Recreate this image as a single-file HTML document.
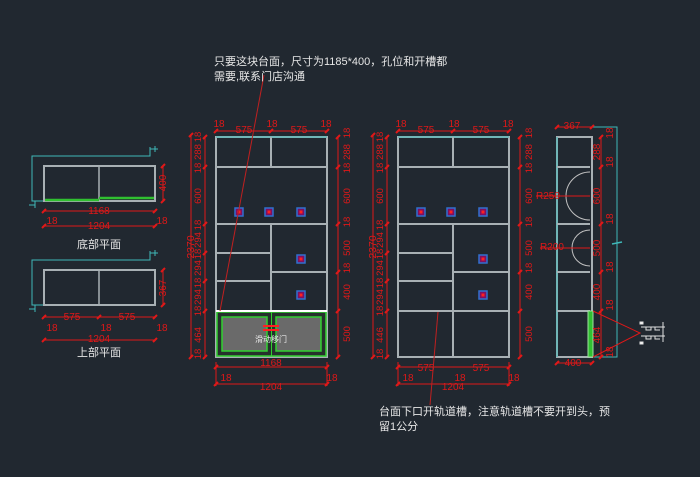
<!DOCTYPE html>
<html><head><meta charset="utf-8"><style>
html,body{margin:0;padding:0;background:#212830;}
svg{display:block}
text{font-family:"Liberation Sans","Noto Sans CJK SC",sans-serif;}
.r{fill:#e01818;font-size:10px;}
.w{fill:#e6e6e6;font-size:11px;}
</style></head><body>
<svg width="700" height="477" viewBox="0 0 700 477" xmlns="http://www.w3.org/2000/svg">
<rect width="700" height="477" fill="#212830"/>
<defs>
<g id="cab">
 <rect x="216" y="137" width="111" height="220" fill="none" stroke="#a8b0b4" stroke-width="2"/>
 <line x1="216" y1="137" x2="327" y2="137" stroke="#5fb8b8" stroke-width="1.5"/>
 <g stroke="#a8b0b4" stroke-width="2">
 <line x1="271" y1="137" x2="271" y2="167"/>
 <line x1="216" y1="167" x2="327" y2="167"/>
 <line x1="216" y1="224" x2="327" y2="224"/>
 <line x1="271" y1="224" x2="271" y2="357"/>
 <line x1="216" y1="253" x2="271" y2="253"/>
 <line x1="216" y1="281" x2="271" y2="281"/>
 <line x1="271" y1="272" x2="327" y2="272"/>
 <line x1="216" y1="311" x2="327" y2="311"/>
 </g>
 <g stroke="#3070d0" stroke-width="1.5" fill="#801060">
 <rect x="235" y="208" width="8" height="8"/><rect x="265" y="208" width="8" height="8"/><rect x="297" y="208" width="8" height="8"/>
 <rect x="297" y="255" width="8" height="8"/><rect x="297" y="291" width="8" height="8"/>
 </g>
 <g fill="#ff2020"><rect x="237.5" y="210.5" width="3" height="3"/><rect x="267.5" y="210.5" width="3" height="3"/><rect x="299.5" y="210.5" width="3" height="3"/><rect x="299.5" y="257.5" width="3" height="3"/><rect x="299.5" y="293.5" width="3" height="3"/></g>
 <g stroke="#e01818" stroke-width="1" fill="none">
  <line x1="216" y1="131" x2="327" y2="131"/>
  <line x1="205" y1="137" x2="205" y2="357"/>
  <line x1="191" y1="135" x2="191" y2="357"/>
  <line x1="338" y1="137" x2="338" y2="357"/>
  <line x1="216" y1="367" x2="327" y2="367"/>
  <line x1="216" y1="384" x2="327" y2="384"/>
  <line x1="216" y1="362" x2="216" y2="386"/><line x1="327" y1="362" x2="327" y2="386"/>
 </g>
 <g stroke="#e01818" stroke-width="2">
  <path d="M214 133l4-4M269 133l4-4M325 133l4-4M203 139l4-4M203 169l4-4M203 226l4-4M203 255l4-4M203 283l4-4M203 313l4-4M203 359l4-4M189 137l4-4M189 359l4-4M336 139l4-4M336 169l4-4M336 226l4-4M336 274l4-4M336 313l4-4M336 359l4-4M214 369l4-4M325 369l4-4M214 386l4-4M325 386l4-4"/>
 </g>
</g>
</defs>
<use href="#cab"/>
<use href="#cab" transform="translate(182,0)"/>
<rect x="217" y="312" width="109" height="44" fill="#26302c" stroke="#30d030" stroke-width="1.5"/>
<rect x="222" y="317" width="45" height="34" fill="#6a6a6a" stroke="#30d030" stroke-width="1.5"/>
<rect x="276" y="317" width="45" height="34" fill="#6a6a6a" stroke="#30d030" stroke-width="1.5"/>
<line x1="271.5" y1="312" x2="271.5" y2="356" stroke="#30d030" stroke-width="1"/>
<line x1="216" y1="311" x2="327" y2="311" stroke="#ffffff" stroke-width="2"/>
<path d="M263 326h16M263 330h16" stroke="#ff2020" stroke-width="2"/>
<text x="271" y="342" class="w" style="font-size:8px" text-anchor="middle">滑动移门</text>
<g class="r">
<g>
<text x="219" y="127" text-anchor="middle">18</text><text x="244" y="133" text-anchor="middle">575</text><text x="272" y="127" text-anchor="middle">18</text><text x="299" y="133" text-anchor="middle">575</text><text x="326" y="127" text-anchor="middle">18</text>
<text x="271" y="366" text-anchor="middle">1168</text><text x="226" y="381" text-anchor="middle">18</text><text x="271" y="390" text-anchor="middle">1204</text><text x="332" y="381" text-anchor="middle">18</text>
<g text-anchor="middle" font-size="9.5">
<text transform="translate(201,137) rotate(-90)">18</text><text transform="translate(201,152) rotate(-90)">288</text><text transform="translate(201,168) rotate(-90)">18</text><text transform="translate(201,196) rotate(-90)">600</text><text transform="translate(201,225) rotate(-90)">18</text><text transform="translate(201,240) rotate(-90)">294</text><text transform="translate(201,254) rotate(-90)">18</text><text transform="translate(201,268) rotate(-90)">294</text><text transform="translate(201,283) rotate(-90)">18</text><text transform="translate(201,297) rotate(-90)">294</text><text transform="translate(201,311) rotate(-90)">18</text><text transform="translate(201,335) rotate(-90)">464</text><text transform="translate(201,354) rotate(-90)">18</text>
<text transform="translate(194,247) rotate(-90)" font-size="10.5">2370</text>
<text transform="translate(350,133) rotate(-90)">18</text><text transform="translate(350,152) rotate(-90)">288</text><text transform="translate(350,168) rotate(-90)">18</text><text transform="translate(350,196) rotate(-90)">600</text><text transform="translate(350,222) rotate(-90)">18</text><text transform="translate(350,248) rotate(-90)">500</text><text transform="translate(350,268) rotate(-90)">18</text><text transform="translate(350,292) rotate(-90)">400</text><text transform="translate(350,334) rotate(-90)">500</text>
</g>
</g>
<g transform="translate(182,0)">
<text x="219" y="127" text-anchor="middle">18</text><text x="244" y="133" text-anchor="middle">575</text><text x="272" y="127" text-anchor="middle">18</text><text x="299" y="133" text-anchor="middle">575</text><text x="326" y="127" text-anchor="middle">18</text>
<text x="244" y="371" text-anchor="middle">575</text><text x="299" y="371" text-anchor="middle">575</text><text x="226" y="381" text-anchor="middle">18</text><text x="278" y="381" text-anchor="middle">18</text><text x="271" y="390" text-anchor="middle">1204</text><text x="332" y="381" text-anchor="middle">18</text>
<g text-anchor="middle" font-size="9.5">
<text transform="translate(201,137) rotate(-90)">18</text><text transform="translate(201,152) rotate(-90)">288</text><text transform="translate(201,168) rotate(-90)">18</text><text transform="translate(201,196) rotate(-90)">600</text><text transform="translate(201,225) rotate(-90)">18</text><text transform="translate(201,240) rotate(-90)">294</text><text transform="translate(201,254) rotate(-90)">18</text><text transform="translate(201,268) rotate(-90)">294</text><text transform="translate(201,283) rotate(-90)">18</text><text transform="translate(201,297) rotate(-90)">294</text><text transform="translate(201,311) rotate(-90)">18</text><text transform="translate(201,335) rotate(-90)">446</text><text transform="translate(201,354) rotate(-90)">18</text>
<text transform="translate(194,247) rotate(-90)" font-size="10.5">2370</text>
<text transform="translate(350,133) rotate(-90)">18</text><text transform="translate(350,152) rotate(-90)">288</text><text transform="translate(350,168) rotate(-90)">18</text><text transform="translate(350,196) rotate(-90)">600</text><text transform="translate(350,222) rotate(-90)">18</text><text transform="translate(350,248) rotate(-90)">500</text><text transform="translate(350,268) rotate(-90)">18</text><text transform="translate(350,292) rotate(-90)">400</text><text transform="translate(350,334) rotate(-90)">500</text>
</g>
</g>
</g>
<g fill="none">
<path d="M592 127h25v230h-25" stroke="#3fb8b8" stroke-width="1"/>
<line x1="612" y1="244" x2="622" y2="242" stroke="#3fb8b8" stroke-width="1.5"/>
<rect x="557" y="137" width="35" height="220" stroke="#a8b0b4" stroke-width="2"/>
<line x1="557" y1="137" x2="557" y2="357" stroke="#5fb8b8" stroke-width="1.5"/>
<g stroke="#a8b0b4" stroke-width="2"><line x1="557" y1="167" x2="590" y2="167"/><line x1="557" y1="224" x2="590" y2="224"/><line x1="557" y1="272" x2="590" y2="272"/><line x1="557" y1="311" x2="590" y2="311"/></g>
<path d="M590 172 A24 24 0 0 0 590 220" stroke="#c0c0c0" stroke-width="1"/>
<path d="M590 230 A18 18 0 0 0 590 266" stroke="#c0c0c0" stroke-width="1"/>
<rect x="588" y="311" width="5" height="46" fill="#30c030" stroke="#a0e0a0" stroke-width="1"/>
<g stroke="#e01818" stroke-width="1">
<line x1="557" y1="127" x2="592" y2="127"/><line x1="601" y1="137" x2="601" y2="357"/><line x1="557" y1="363" x2="592" y2="363"/>
<line x1="536" y1="196" x2="590" y2="196"/><line x1="540" y1="248" x2="590" y2="248"/>
<path d="M593 311L640 333L593 357"/>
</g>
<path d="M555 129l4-4M590 129l4-4M599 139l4-4M599 169l4-4M599 226l4-4M599 274l4-4M599 313l4-4M599 359l4-4M555 365l4-4M590 365l4-4" stroke="#e01818" stroke-width="2"/>
</g>
<g class="r" text-anchor="middle" font-size="9.5">
<text x="572" y="129" font-size="10">367</text><text x="573" y="366" font-size="10">400</text>
<text x="536" y="199" text-anchor="start">R250</text><text x="540" y="250" text-anchor="start">R200</text>
<text transform="translate(613,133) rotate(-90)">18</text><text transform="translate(600,152) rotate(-90)">288</text><text transform="translate(613,162) rotate(-90)">18</text><text transform="translate(600,196) rotate(-90)">600</text><text transform="translate(613,219) rotate(-90)">18</text><text transform="translate(600,248) rotate(-90)">500</text><text transform="translate(613,267) rotate(-90)">18</text><text transform="translate(600,292) rotate(-90)">400</text><text transform="translate(613,305) rotate(-90)">18</text><text transform="translate(600,335) rotate(-90)">464</text><text transform="translate(613,352) rotate(-90)">18</text>
</g>
<g stroke="#e0e0e0" stroke-width="1" fill="none">
<path d="M641 327h24M646 327v3h5v-3h4v3h5M641 336h24M646 336v3h5v-3h4v3h5M663 322v10M663 332v10"/>
<rect x="640" y="322" width="3" height="2" fill="#fff"/><rect x="640" y="342" width="3" height="2" fill="#fff"/>
</g>
<g fill="none">
<path d="M44 201h-12v-45h118v-7h8" stroke="#3fb8b8" stroke-width="1"/>
<path d="M29 205h6M35 201v7M150 147v5M155 146v6" stroke="#3fb8b8" stroke-width="1"/>
<rect x="44" y="166" width="111" height="35" stroke="#a8b0b4" stroke-width="2"/>
<line x1="99" y1="166" x2="99" y2="200" stroke="#a8b0b4" stroke-width="1.5"/>
<path d="M45 200h54M99 198h55" stroke="#30c030" stroke-width="2.5"/>
<path d="M44 305h-12v-45h118v-7h8" stroke="#3fb8b8" stroke-width="1"/>
<path d="M29 309h6M35 305v7M150 251v5M155 250v6" stroke="#3fb8b8" stroke-width="1"/>
<rect x="44" y="270" width="111" height="35" stroke="#a8b0b4" stroke-width="2"/>
<line x1="99" y1="270" x2="99" y2="305" stroke="#a8b0b4" stroke-width="1.5"/>
<g stroke="#e01818" stroke-width="1">
<line x1="44" y1="211" x2="155" y2="211"/><line x1="44" y1="226" x2="155" y2="226"/><line x1="163" y1="166" x2="163" y2="201"/>
<line x1="44" y1="317" x2="155" y2="317"/><line x1="44" y1="340" x2="155" y2="340"/><line x1="163" y1="270" x2="163" y2="305"/>
</g>
<path d="M42 213l4-4M153 213l4-4M42 228l4-4M153 228l4-4M161 168l4-4M161 203l4-4M42 319l4-4M97 319l4-4M153 319l4-4M42 342l4-4M153 342l4-4M161 272l4-4M161 307l4-4" stroke="#e01818" stroke-width="2"/>
</g>
<g class="r" text-anchor="middle">
<text x="99" y="214">1168</text><text x="52" y="224">18</text><text x="99" y="229">1204</text><text x="162" y="224">18</text>
<text transform="translate(166,183) rotate(-90)">400</text>
<text x="72" y="320">575</text><text x="127" y="320">575</text><text x="52" y="331">18</text><text x="106" y="331">18</text><text x="162" y="331">18</text><text x="99" y="342">1204</text>
<text transform="translate(166,288) rotate(-90)">367</text>
</g>
<text x="99" y="248" class="w" font-size="13" text-anchor="middle">底部平面</text>
<text x="99" y="356" class="w" font-size="13" text-anchor="middle">上部平面</text>
<line x1="264" y1="75" x2="220" y2="311" stroke="#c02020" stroke-width="1"/>
<line x1="430" y1="405" x2="438" y2="312" stroke="#c02020" stroke-width="1"/>
<text x="214" y="65" class="w">只要这块台面，尺寸为1185*400，孔位和开槽都</text>
<text x="214" y="80" class="w">需要,联系门店沟通</text>
<text x="379" y="415" class="w">台面下口开轨道槽，注意轨道槽不要开到头，预</text>
<text x="379" y="430" class="w">留1公分</text>
</svg>
</body></html>
